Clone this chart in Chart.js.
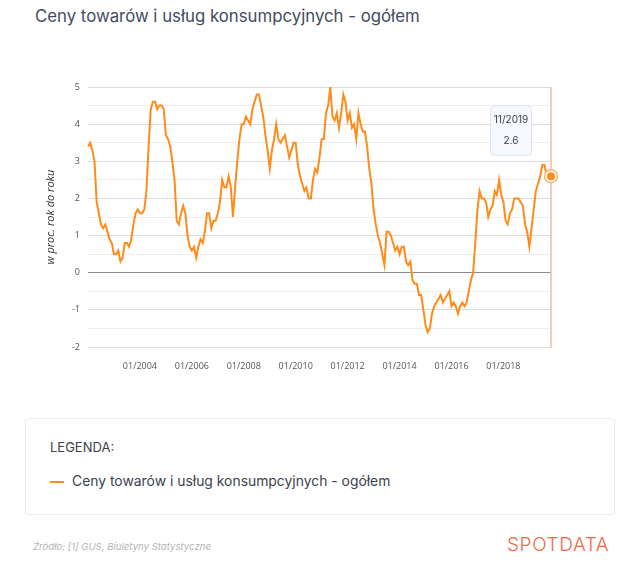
<!DOCTYPE html>
<html lang="pl">
<head>
<meta charset="utf-8">
<title>Ceny towarów i usług konsumpcyjnych - ogółem</title>
<script src="https://cdn.jsdelivr.net/npm/chart.js@4"></script>
<style>
  html, body { margin: 0; padding: 0; background: #fff; }
  body { width: 640px; height: 573px; position: relative; overflow: hidden; font-family: 'Inter', 'Noto Sans', sans-serif; }
  #title { position: absolute; left: 35px; top: 6px; font-size: 16.8px; font-weight: 400; color: #3f4b5e; white-space: nowrap; }
  #wrap { position: absolute; left: 0; top: 0; width: 640px; height: 400px; }
  #legend { position: absolute; left: 25px; top: 418px; width: 588px; height: 95px; border: 1px solid #ececec; border-radius: 4px; }
  #legend .head { position: absolute; left: 24px; top: 20px; font-size: 13px; color: #3a3f4c; }
  #legend .item { position: absolute; left: 24px; top: 54px; font-size: 13.9px; color: #3a3f4c; white-space: nowrap; }
  #legend .swatch { display: inline-block; width: 14px; height: 2px; background: #ff8c1a; vertical-align: middle; margin-right: 8px; }
  #source { position: absolute; left: 33px; top: 541px; font-size: 9.6px; font-style: italic; color: #b3b3b3; }
  #logo { position: absolute; left: 507px; top: 533px; font-size: 19px; color: #ef6848; letter-spacing: 0.6px; font-weight: 300; }
</style>
</head>
<body>
<div id="title">Ceny towarów i usług konsumpcyjnych - ogółem</div>
<div id="wrap"><canvas id="myChart"></canvas></div>
<div id="legend">
  <div class="head">LEGENDA:</div>
  <div class="item"><span class="swatch"></span>Ceny towarów i usług konsumpcyjnych - ogółem</div>
</div>
<div id="source">Źródło: [1] GUS, Biuletyny Statystyczne</div>
<div id="logo">SPOTDATA</div>
<script>
// months 01/2002 .. 11/2019
const firstYear = 2002;
const lastYear = 2019;
const lastMonth = 11;

// CPI, % r/r
const values = [
  3.4, 3.5, 3.3, 3.0, 1.9, 1.6, 1.3, 1.2, 1.3, 1.1, 0.9, 0.8,       // 2002
  0.5, 0.5, 0.6, 0.3, 0.4, 0.8, 0.8, 0.7, 0.9, 1.3, 1.6, 1.7,       // 2003
  1.6, 1.6, 1.7, 2.2, 3.4, 4.4, 4.6, 4.6, 4.4, 4.5, 4.5, 4.4,       // 2004
  3.7, 3.6, 3.4, 3.0, 2.5, 1.4, 1.3, 1.6, 1.8, 1.6, 1.0, 0.7,       // 2005
  0.6, 0.7, 0.4, 0.7, 0.9, 0.8, 1.1, 1.6, 1.6, 1.2, 1.4, 1.4,       // 2006
  1.6, 1.9, 2.5, 2.3, 2.3, 2.6, 2.3, 1.5, 2.3, 3.0, 3.6, 4.0,       // 2007
  4.0, 4.2, 4.1, 4.0, 4.4, 4.6, 4.8, 4.8, 4.5, 4.2, 3.7, 3.3,       // 2008
  2.8, 3.3, 3.6, 4.0, 3.6, 3.5, 3.6, 3.7, 3.4, 3.1, 3.3, 3.5,       // 2009
  3.5, 2.9, 2.6, 2.4, 2.2, 2.3, 2.0, 2.0, 2.5, 2.8, 2.7, 3.1,       // 2010
  3.6, 3.6, 4.3, 4.5, 5.0, 4.2, 4.1, 4.3, 3.9, 4.3, 4.8, 4.6,       // 2011
  4.1, 4.3, 3.9, 4.0, 3.6, 4.3, 4.0, 3.8, 3.8, 3.4, 2.8, 2.4,       // 2012
  1.7, 1.3, 1.0, 0.8, 0.5, 0.2, 1.1, 1.1, 1.0, 0.8, 0.6, 0.7,       // 2013
  0.5, 0.7, 0.7, 0.3, 0.2, 0.3, -0.2, -0.3, -0.3, -0.6, -0.6, -1.0, // 2014
  -1.4, -1.6, -1.5, -1.1, -0.9, -0.8, -0.7, -0.6, -0.8, -0.7, -0.6, -0.5, // 2015
  -0.9, -0.8, -0.9, -1.1, -0.9, -0.8, -0.9, -0.8, -0.5, -0.2, 0.0, 0.8,   // 2016
  1.7, 2.2, 2.0, 2.0, 1.9, 1.5, 1.7, 1.8, 2.2, 2.1, 2.5, 2.1,       // 2017
  1.9, 1.4, 1.3, 1.6, 1.7, 2.0, 2.0, 2.0, 1.9, 1.8, 1.3, 1.1,       // 2018
  0.7, 1.2, 1.7, 2.2, 2.4, 2.6, 2.9, 2.9, 2.6, 2.5, 2.6             // 2019
];

const tickLabels = ['01/2004', '01/2006', '01/2008', '01/2010', '01/2012', '01/2014', '01/2016', '01/2018'];
const yTicks = [-2, -1, 0, 1, 2, 3, 4, 5];

const labels = [];
for (let y = firstYear; y <= lastYear; y++) {
  for (let m = 1; m <= 12; m++) {
    if (y === lastYear && m > lastMonth) break;
    labels.push(String(m).padStart(2, '0') + '/' + y);
  }
}

const orange = '#ff8c1a';

// crosshair, hovered point and tooltip on the last month
const lastPoint = {
  id: 'lastPoint',
  afterDatasetsDraw(chart) {
    const {ctx, chartArea} = chart;
    const meta = chart.getDatasetMeta(0);
    const i = meta.data.length - 1;
    const pt = meta.data[i];
    ctx.save();
    ctx.strokeStyle = '#f5b8a4';
    ctx.lineWidth = 1.5;
    ctx.beginPath();
    ctx.moveTo(pt.x, chartArea.top);
    ctx.lineTo(pt.x, chartArea.bottom + 1);
    ctx.stroke();

    ctx.beginPath();
    ctx.arc(pt.x, pt.y, 6.5, 0, Math.PI * 2);
    ctx.fillStyle = '#fff';
    ctx.fill();
    ctx.strokeStyle = '#ffb36b';
    ctx.lineWidth = 1.5;
    ctx.stroke();
    ctx.beginPath();
    ctx.arc(pt.x, pt.y, 4, 0, Math.PI * 2);
    ctx.fillStyle = orange;
    ctx.fill();

    // tooltip
    const bx = pt.x - 61, by = pt.y - 71, bw = 41, bh = 50;
    ctx.beginPath();
    ctx.roundRect(bx + 0.5, by + 0.5, bw, bh, 4);
    ctx.fillStyle = '#f5f8fd';
    ctx.fill();
    ctx.strokeStyle = '#dde5f0';
    ctx.lineWidth = 1;
    ctx.stroke();
    ctx.fillStyle = '#3c404c';
    ctx.font = '10px Inter';
    ctx.textAlign = 'center';
    ctx.textBaseline = 'middle';
    ctx.fillText(labels[i], bx + bw / 2 + 0.5, by + 15);
    ctx.fillText(String(values[i]), bx + bw / 2 + 0.5, by + 36);
    ctx.restore();
  }
};

new Chart(document.getElementById('myChart'), {
  type: 'line',
  data: {
    labels: labels,
    datasets: [{
      label: 'Ceny towarów i usług konsumpcyjnych - ogółem',
      data: values,
      borderColor: orange,
      borderWidth: 2,
      pointRadius: 0,
      tension: 0,
      fill: false
    }]
  },
  options: {
    responsive: true,
    maintainAspectRatio: false,
    animation: false,
    events: [],
    layout: { padding: { top: 87, right: 89, left: 0, bottom: 0 } },
    plugins: {
      legend: { display: false },
      tooltip: { enabled: false }
    },
    scales: {
      x: {
        grid: { display: false },
        border: { display: false },
        afterFit(scale) { scale.height = 53; },
        ticks: {
          autoSkip: false,
          maxRotation: 0,
          padding: 6,
          color: '#555',
          font: { family: 'Open Sans', size: 9 },
          callback(v, i) { return tickLabels.includes(labels[i]) ? labels[i] : ''; }
        }
      },
      y: {
        min: -2,
        max: 5,
        border: { display: false },
        afterFit(scale) { scale.width = 88; },
        title: {
          display: true,
          text: 'w proc. rok do roku',
          color: '#333',
          font: { family: 'Open Sans', size: 11, style: 'italic' },
          padding: { top: 44, bottom: 0 }
        },
        grid: {
          drawTicks: false,
          lineWidth: 1,
          color(c) {
            const v = c.tick.value;
            if (v === 0) return '#8c8c8c';
            return yTicks.includes(v) ? '#dcdcdc' : '#eeeeee';
          }
        },
        ticks: {
          stepSize: 0.5,
          padding: 8,
          color: '#555',
          font: { family: 'Open Sans', size: 9 },
          callback(v) { return yTicks.includes(v) ? String(v) : ''; }
        }
      }
    }
  },
  plugins: [lastPoint]
});
</script>
</body>
</html>
